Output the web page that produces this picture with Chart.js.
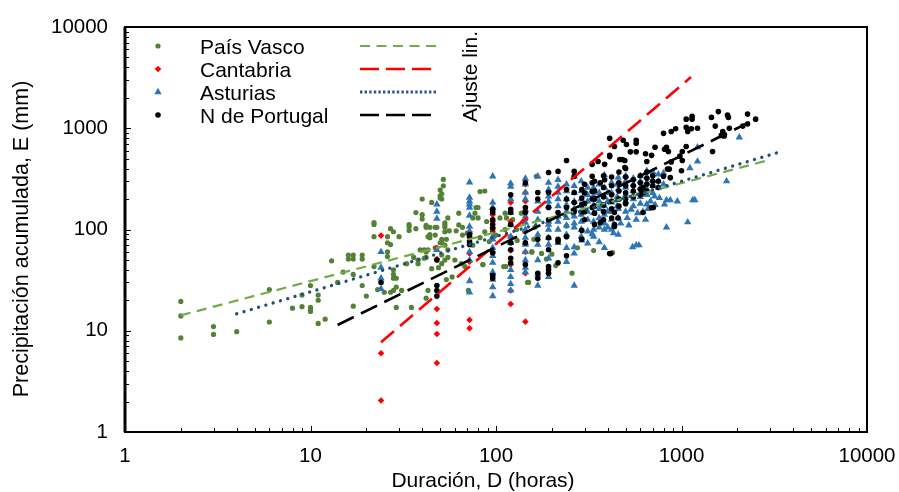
<!DOCTYPE html>
<html><head><meta charset="utf-8">
<style>html,body{margin:0;padding:0;background:#fff}#w{width:899px;height:492px}</style>
<script src="https://cdn.jsdelivr.net/npm/chart.js@4"></script></head>
<body><div id="w"><canvas id="c" width="899" height="492"></canvas></div>
<script>
const seriesNames=["País Vasco","Cantabria","Asturias","N de Portugal"];
const fitLabel="Ajuste lin.";
const xTitle="Duración, D (horas)";
const yTitle="Precipitación acumulada, E (mm)";
const decades=[1,10,100,1000,10000];
const minorSteps=[1,2,3,4,5,6,7,8,9];

const paisVasco=[[2,19.5],[2,14],[2,8.5],[3,11],[3,9.2],[4,9.8],[6,25.5],[6,12.2],[8,16.7],[9,17.3],[9,22.5],[10,28],[10,17],[10,16],[10,15.5],[11,22.5],[11,20],[11,11.8],[12,13],[13,49],[14,30],[15,38],[17,36],[17,17.5],[16,56],[16,51],[17,56],[17,51],[19,56],[19,51],[19,28],[20,22],[22,117],[22,112],[22,85],[22,43],[23,25.5],[25,24],[26,85],[26,74],[27,71],[27,102],[28,95],[30,85],[26,60],[26,54],[28,40],[28,36],[28,33],[29,33],[27,24],[28,25],[29,27],[31,25],[29,17],[35,17],[42,21],[40,200],[37,147],[40,140],[40,127],[34,112],[34,107],[34,98],[37,102],[42,110],[44,89],[44,83],[39,63],[42,60],[41,63],[36,53],[38,50],[38,46],[41,52],[33,46],[52,312],[52,270],[50,245],[50,215],[50,205],[51,225],[51,200],[45,185],[53,116],[53,105],[55,130],[63,145],[82,237],[87,240],[78,165],[80,165],[85,45],[110,43],[150,30],[44,105],[48,105],[53,111],[63,111],[66,105],[75,130],[80,130],[77,145],[112,145],[114,130],[137,145],[89,120],[105,130],[123,125],[162,105],[42,105],[47,105],[47,88],[43,85],[53,95],[56,97],[61,97],[66,88],[54,80],[51,74],[87,95],[82,83],[112,100],[129,100],[143,95],[43,63],[47,66],[50,74],[53,70],[51,80],[55,63],[42,53],[51,56],[55,53],[53,50],[51,46],[60,50],[65,46],[68,43],[85,45],[113,43],[156,60],[45,41],[49,42],[54,32],[58,34],[43,25],[71,25],[336,62],[425,59],[275,66],[240,108],[176,58],[156,60],[210,44],[200,57],[187,51],[257,37],[148,30],[160,80],[165,335],[100,88],[92,76],[130,78],[140,120],[70,92],[75,70]];

const cantabria=[[24,87],[24,6],[24,2.05],[48,16.4],[48,11.9],[48,9.3],[48,4.8],[48,66],[48,51],[72,12.8],[72,10.6],[72,58],[72,95],[72,48],[96,105],[96,95],[96,158],[96,140],[96,120],[96,60],[96,36],[120,185],[120,25],[120,18.4],[120,120],[120,85],[120,62],[120,45],[144,12.3],[144,232],[144,190],[144,150],[144,95],[144,37],[144,280],[144,125],[144,60]];

const asturias=[[24,60],[24,42],[24,33],[24,26],[48,177],[48,150],[48,128],[48,63],[72,293],[72,207],[72,190],[72,177],[72,165],[72,137],[72,107],[72,95],[72,60],[72,50],[72,31],[72,24],[96,335],[96,185],[96,165],[96,85],[96,80],[96,66],[96,55],[96,47],[96,38],[96,32],[96,27],[96,22],[120,285],[120,265],[120,200],[120,147],[120,112],[120,85],[120,76],[120,74],[120,40],[120,34],[120,29],[120,25],[144,318],[144,280],[144,232],[144,200],[144,158],[144,135],[144,117],[144,100],[144,83],[144,74],[144,71],[144,60],[144,50],[144,42],[144,38],[168,335],[168,190],[168,150],[168,125],[168,89],[168,71],[168,50],[168,36],[168,28],[192,290],[192,248],[192,212],[192,190],[192,170],[192,120],[192,112],[192,100],[192,83],[192,71],[192,52],[192,34],[216,310],[216,265],[216,232],[216,200],[216,170],[216,135],[216,120],[216,100],[216,74],[240,89],[240,66],[240,48],[240,110],[240,130],[240,150],[240,175],[240,200],[240,240],[240,280],[264,335],[264,270],[264,230],[264,190],[264,160],[264,135],[264,115],[264,105],[264,67],[264,58],[264,28],[288,300],[288,240],[288,200],[288,170],[288,140],[288,120],[288,100],[288,85],[312,260],[312,220],[312,190],[312,150],[312,125],[312,96],[312,73],[336,260],[336,215],[336,175],[336,145],[336,120],[336,100],[336,85],[360,280],[360,230],[360,190],[360,160],[360,130],[360,105],[360,75],[384,345],[384,260],[384,210],[384,170],[384,140],[384,115],[384,100],[384,66],[420,290],[420,230],[420,185],[420,150],[420,125],[420,100],[456,325],[456,250],[456,200],[456,160],[456,130],[456,89],[400,150],[400,190],[400,230],[450,170],[450,210],[450,280],[500,150],[500,190],[500,220],[500,260],[500,300],[500,340],[510,130],[535,157],[545,67],[550,170],[550,200],[550,240],[550,280],[550,320],[570,125],[570,70],[590,70],[600,180],[600,210],[600,260],[600,300],[600,340],[650,177],[650,220],[650,250],[650,290],[650,330],[650,380],[700,230],[700,270],[700,310],[700,370],[715,212],[750,260],[750,300],[750,350],[800,280],[800,360],[810,177],[830,195],[830,105],[870,195],[950,190],[1080,118],[1110,405],[1150,195],[1180,195],[1220,650],[1220,470],[1750,300],[2050,815],[470,115],[520,110],[580,145],[620,150],[660,160],[680,190],[720,175],[760,205],[640,125],[330,90],[290,78],[400,105],[430,92]];

const portugal=[[24,30],[48,50],[48,28],[48,25],[48,22],[72,89],[72,85],[72,76],[72,71],[96,158],[96,147],[96,125],[96,112],[96,102],[96,59],[96,35],[96,33],[120,220],[120,158],[120,147],[120,112],[120,74],[120,63],[120,52],[120,47],[144,290],[144,165],[144,147],[144,74],[144,45],[168,232],[168,200],[168,80],[168,37],[168,33],[192,365],[192,232],[192,165],[192,125],[192,83],[192,63],[192,43],[192,40],[192,37],[216,375],[216,147],[216,80],[216,76],[216,47],[240,480],[240,85],[240,55],[240,248],[240,200],[240,165],[264,375],[264,335],[264,232],[264,185],[264,150],[290,248],[290,205],[290,177],[290,150],[290,98],[290,80],[330,440],[330,335],[330,290],[330,237],[330,200],[330,165],[385,440],[355,470],[410,525],[365,290],[385,310],[465,490],[495,410],[435,107],[410,58],[415,58],[410,795],[485,760],[435,660],[410,540],[570,760],[570,710],[505,690],[530,585],[570,585],[480,490],[495,480],[640,560],[720,650],[650,470],[690,540],[800,890],[880,930],[930,990],[810,620],[830,650],[850,590],[1060,1230],[1140,1310],[1140,1230],[1060,1020],[1080,930],[1130,990],[1220,1000],[1580,1460],[1450,1280],[1770,1350],[1790,1280],[2270,1380],[2510,1230],[1520,1050],[2140,1050],[2270,1100],[1670,930],[1700,840],[1640,850],[1810,1000],[1470,590],[1010,590],[1060,660],[980,530],[1010,480],[880,465],[860,395],[1000,380],[800,335],[870,325],[840,395],[690,165],[705,165],[620,147],[435,147],[455,130],[435,112],[365,117],[340,112],[300,280],[300,230],[300,180],[300,150],[300,125],[340,300],[340,240],[340,200],[340,170],[340,145],[380,340],[380,260],[380,210],[380,175],[380,150],[380,125],[420,330],[420,270],[420,220],[420,190],[420,160],[420,130],[460,370],[460,290],[460,240],[460,200],[460,170],[500,400],[500,330],[500,270],[500,230],[500,200],[500,180],[550,310],[550,270],[550,240],[550,210],[600,340],[600,290],[600,250],[600,220],[650,370],[650,320],[650,280],[650,240],[700,340],[700,300],[700,270],[750,300],[750,260],[620,260],[620,230]];

const fitPaisVasco=[[2,14.2],[2900,480]];
const fitCantabria=[[24,7.7],[1125,3200]];
const fitAsturias=[[4,14.7],[3380,582]];
const fitPortugal=[[14,11.4],[2330,1150]];

const colorGreen="#548235",colorGreenLine="#70AD47",colorRed="#FF0000",colorBlue="#2E75B6",colorBlueLine="#1F4E79",colorBlack="#000000";
const FONT='"Liberation Sans", Arial, sans-serif';
const toXY=a=>a.map(p=>({x:p[0],y:p[1]}));
const scatter=(label,d,style,color,r)=>({type:'scatter',label,data:toXY(d),pointStyle:style,pointRadius:r,pointHoverRadius:r,backgroundColor:color,borderColor:color,borderWidth:0,showLine:false});
const fit=(label,d,color,w,dash,cap)=>({type:'line',label,data:toXY(d),borderColor:color,borderWidth:w,borderDash:dash,borderCapStyle:cap||'butt',pointRadius:0,fill:false,tension:0});

const radii=[2.6,3.3,4.3,2.8];
const sets=[
 scatter(seriesNames[0],paisVasco,'circle',colorGreen,radii[0]),
 scatter(seriesNames[1],cantabria,'rectRot',colorRed,radii[1]),
 scatter(seriesNames[2],asturias,'triangle',colorBlue,radii[2]),
 scatter(seriesNames[3],portugal,'circle',colorBlack,radii[3]),
 fit('fit1',fitPaisVasco,colorGreenLine,2.2,[10,6.5]),
 fit('fit2',fitCantabria,colorRed,2.6,[17,8]),
 fit('fit3',fitAsturias,colorBlueLine,3.3,[0.01,7.6],'round'),
 fit('fit4',fitPortugal,colorBlack,2.6,[18,8])
];
sets.forEach((s,i)=>s.order=sets.length-i);

const logTicks=[];
decades.forEach(d=>minorSteps.forEach(m=>{const v=d*m;if(v<=10000)logTicks.push({value:v});}));
const isDecade=v=>decades.includes(v);

const frame={id:'frame',afterDatasetsDraw(ch){
 const {ctx,chartArea:a,scales:{x,y}}=ch;
 ctx.save();
 ctx.strokeStyle='#000';ctx.lineWidth=1;
 x.ticks.forEach(t=>{const p=Math.round(x.getPixelForValue(t.value))+.5,l=isDecade(t.value)?6:4;ctx.beginPath();ctx.moveTo(p,a.bottom);ctx.lineTo(p,a.bottom-l);ctx.stroke();});
 y.ticks.forEach(t=>{const p=Math.round(y.getPixelForValue(t.value))+.5,l=isDecade(t.value)?6:4;ctx.beginPath();ctx.moveTo(a.left,p);ctx.lineTo(a.left+l,p);ctx.stroke();});
 ctx.lineWidth=2;ctx.strokeRect(a.left,a.top,a.right-a.left,a.bottom-a.top);
 ctx.beginPath();ctx.moveTo(a.left,a.top);ctx.lineTo(a.left,a.bottom);ctx.lineWidth=3;ctx.stroke();
 ctx.lineWidth=1;ctx.fillStyle='#000';
 // legend
 ctx.font='21px '+FONT;ctx.textBaseline='middle';ctx.textAlign='left';
 const rows=[47,70,93,116];
 seriesNames.forEach((n,i)=>ctx.fillText(n,200,rows[i]+1));
 const st=['circle','rectRot','triangle','circle'],co=[colorGreen,colorRed,colorBlue,colorBlack];
 rows.forEach((r,i)=>{ctx.fillStyle=co[i];ctx.strokeStyle=co[i];Chart.helpers.drawPoint(ctx,{pointStyle:st[i],radius:radii[i],borderWidth:0},158,r-1);});
 const ls=[[colorGreenLine,2.2,[10,6.5]],[colorRed,2.6,[19,7]],['#2F5597',3,[2.4,2.2]],[colorBlack,2.6,[19,7]]];
 rows.forEach((r,i)=>{ctx.strokeStyle=ls[i][0];ctx.lineWidth=ls[i][1];ctx.setLineDash(ls[i][2]);ctx.beginPath();ctx.moveTo(360,r-1);ctx.lineTo(437,r-1);ctx.stroke();});
 ctx.setLineDash([]);
 ctx.fillStyle='#000';
 ctx.textAlign='center';ctx.fillText(xTitle,483,481);
 ctx.save();ctx.translate(471,122);ctx.rotate(-Math.PI/2);ctx.textAlign='left';ctx.fillText(fitLabel,0,0);ctx.restore();
 ctx.font='21.5px '+FONT;
 ctx.save();ctx.translate(22,239);ctx.rotate(-Math.PI/2);ctx.textAlign='center';ctx.fillText(yTitle,0,0);ctx.restore();
 ctx.restore();
}};

Chart.defaults.font.family=FONT;
new Chart(document.getElementById('c'),{
 data:{datasets:sets},
 plugins:[frame],
 options:{responsive:false,animation:false,events:[],
  layout:{padding:{top:27,right:32,left:0,bottom:0}},
  plugins:{legend:{display:false},tooltip:{enabled:false}},
  scales:{
   x:{type:'logarithmic',min:1,max:10000,
    afterBuildTicks:s=>{s.ticks=logTicks.map(t=>({...t}));},
    afterFit:s=>{s.height=60;s.paddingLeft=0;s.paddingRight=0;},
    grid:{display:false,drawTicks:false},border:{display:false},
    ticks:{autoSkip:false,maxRotation:0,color:'#000',font:{size:20.5},padding:12,callback:v=>isDecade(v)?String(v):''},
    title:{display:false}},
   y:{type:'logarithmic',min:1,max:10000,
    afterBuildTicks:s=>{s.ticks=logTicks.map(t=>({...t}));},
    afterFit:s=>{s.width=125;s.paddingTop=0;s.paddingBottom=0;},
    grid:{display:false,drawTicks:false},border:{display:false},
    ticks:{autoSkip:false,color:'#000',font:{size:20.5},padding:17,callback:v=>isDecade(v)?String(v):''},
    title:{display:false}}
  }}
});
</script></body></html>
